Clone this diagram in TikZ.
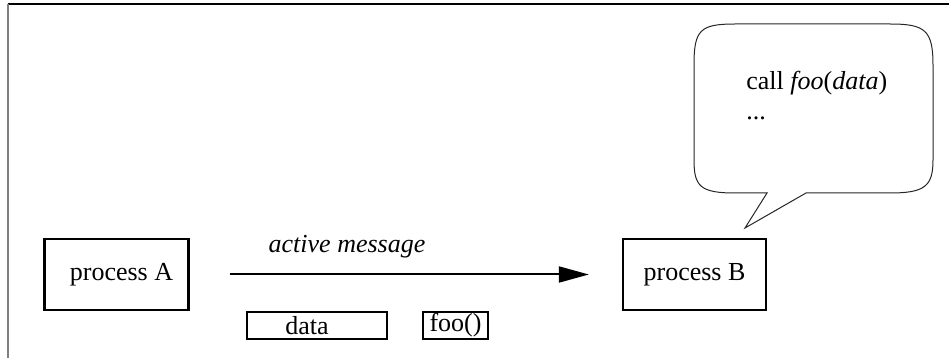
\documentclass[tikz,border=0pt]{standalone}
\usepackage{fontspec}
\setmainfont{Liberation Serif}
\usetikzlibrary{arrows.meta}
\begin{document}
\begin{tikzpicture}[x=0.5pt,y=-0.5pt,
  every node/.style={font=\fontsize{13}{15}\selectfont},
  procbox/.style={draw, line width=1.2pt, inner sep=0pt, minimum width=72pt, minimum height=35.5pt},
  smallbox/.style={draw, line width=1pt, inner sep=0pt, minimum height=13.5pt},
  lbl/.style={anchor=base, inner sep=0pt},
  msg/.style={line width=1pt, -{Triangle[length=15pt,width=8pt]}}]
\useasboundingbox (0,0) rectangle (949,358);
% frame
\draw[line width=0.75pt] (8,4) -- (949,4);
\draw[gray, line width=1pt] (8,4) -- (8,358);
% processes
\node[procbox] (A) at (116.5,274.5) {\kern5pt process A};
\node[procbox, minimum width=71.5pt] (B) at (694.5,274.5) {process B};
% message
\draw[msg, shorten <=20pt, shorten >=16.5pt] (A.east) -- (B.west);
\node[lbl, font=\fontsize{13}{15}\selectfont\itshape] (m) at (347,253) {active message};
% parts
\node[smallbox, minimum width=70pt] (d) at (317,325.5) {data\kern10pt};
\node[smallbox, minimum width=32.5pt] (f) at (455.5,325.5) {foo()};
% speech bubble
\draw[line width=0.5pt, black!85]
  (735,24) -- (890,24)
  .. controls (925,24) and (933,30) .. (933,65)
  -- (933,160)
  .. controls (933,186) and (925,193) .. (890,193)
  -- (806,193) -- (745,228) -- (767,193) -- (735,193)
  .. controls (700,193) and (694,186) .. (694,160)
  -- (694,65)
  .. controls (694,30) and (700,24) .. (735,24) -- cycle;
\node[anchor=base west, inner sep=0pt] (c1) at (746,90) {call \textit{foo}(\textit{data})};
\node[anchor=base west, inner sep=0pt] (c2) at (746,120) {...};
\end{tikzpicture}
\end{document}
